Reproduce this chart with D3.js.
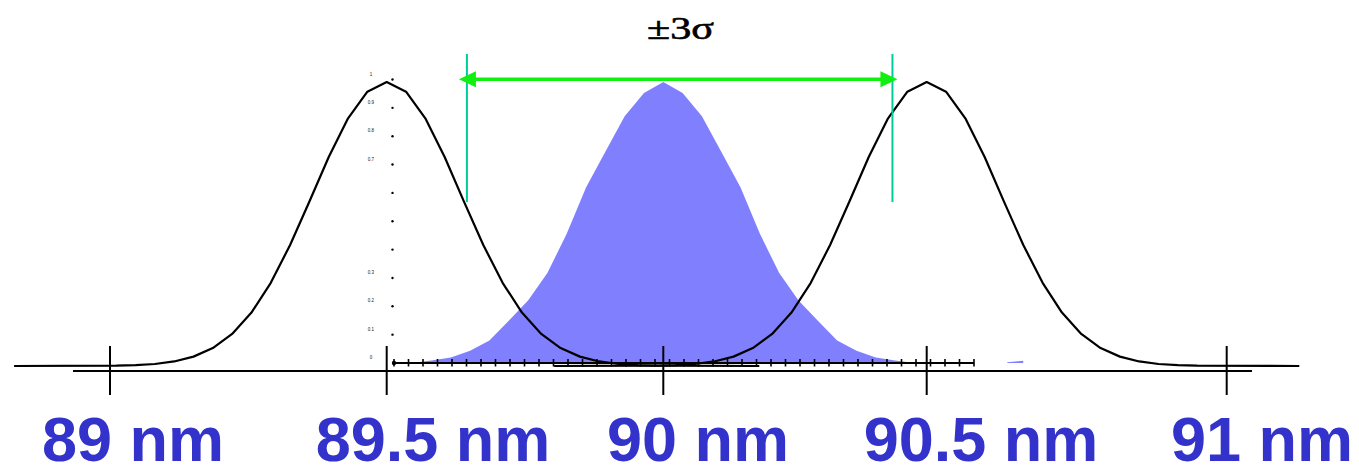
<!DOCTYPE html>
<html>
<meta charset="utf-8">
<head>
<title>3 sigma overlay</title>
	<script src="https://d3js.org/d3.v7.min.js"></script>
	<style>
		body { margin: 0; background: #fff; }
	</style>
</head>

<body>
	<div id="plot"></div>
</body>

<script>

// axis ticks and labels (nm)
var tickValues = [89, 89.5, 90, 90.5, 91];
var tickLabels = ["89 nm", "89.5 nm", "90 nm", "90.5 nm", "91 nm"];

// centres of the two outer (black) curves and the filled one
var outerCentres = [89.5, 90.5];
var filledCentre = 90;

// profile: offset from centre (nm) -> relative height
var outerOffsets = [-0.675, -0.49, -0.455, -0.42, -0.385, -0.35, -0.315, -0.28, -0.245, -0.21, -0.175, -0.14, -0.105, -0.07, -0.035,
	0, 0.035, 0.07, 0.105, 0.14, 0.175, 0.21, 0.245, 0.28, 0.315, 0.35, 0.385, 0.42, 0.455, 0.49, 0.675];
var outerValues = [0, 0.001, 0.003, 0.007, 0.016, 0.033, 0.063, 0.113, 0.188, 0.293, 0.426, 0.579, 0.736, 0.872, 0.966,
	1, 0.966, 0.872, 0.736, 0.579, 0.426, 0.293, 0.188, 0.113, 0.063, 0.033, 0.016, 0.007, 0.003, 0.001, 0];

var filledOffsets = [-0.455, -0.42, -0.385, -0.35, -0.315, -0.28, -0.245, -0.21, -0.175, -0.14, -0.105, -0.07, -0.035,
	0, 0.035, 0.07, 0.105, 0.14, 0.175, 0.21, 0.245, 0.28, 0.315, 0.35, 0.385, 0.42, 0.455];
var filledValues = [0, 0.009, 0.02, 0.044, 0.08, 0.15, 0.222, 0.32, 0.46, 0.625, 0.752, 0.878, 0.961,
	1, 0.961, 0.878, 0.752, 0.625, 0.46, 0.32, 0.222, 0.15, 0.08, 0.044, 0.02, 0.009, 0];

// stray sliver of fill right of the curve
var sliverOffsets = [0.623, 0.652, 0.652, 0.623];
var sliverValues = [0, 0, 0.008, 0.003];

// +-3 sigma markers (nm)
var sigmaMarks = [89.645, 90.435];
var sigmaLabel = "±3σ";

// the little embedded chart axis
var miniTicks = d3.range(0, 41);
var miniDots = [0.1, 0.2, 0.3, 0.4, 0.5, 0.6, 0.7, 0.8, 0.9, 1];
var miniLabelValues = [1, 0.9, 0.8, 0.7, 0.3, 0.2, 0.1, 0];
var miniLabels = ["1", "0.9", "0.8", "0.7", "0.3", "0.2", "0.1", "0"];

var width = 1359, height = 466;

var svg = d3.select("#plot").append("svg")
	.attr("width", width)
	.attr("height", height);

// the slide axis is not evenly spaced, so piecewise
var x = d3.scaleLinear()
	.domain(tickValues)
	.range([110, 386.7, 663.3, 926.7, 1226.7]);

var xLabel = d3.scaleLinear()
	.domain(tickValues)
	.range([133, 433, 698, 981, 1262]);

var off = d3.scaleLinear().domain([0, 1]).range([0, 552]);

var yOuter = d3.scaleLinear().domain([0, 1]).range([366, 82]);
var yFilled = d3.scaleLinear().domain([0, 1]).range([363, 82]);
var yMini = d3.scaleLinear().domain([0, 1]).range([363, 79.5]);

var xMini = d3.scaleLinear().domain([0, 40]).range([394, 974]);

// filled curve
var area = d3.area()
	.x(function(d){ return x(filledCentre) + off(d[0]); })
	.y0(yFilled(0))
	.y1(function(d){ return yFilled(d[1]); });

svg.append("path")
	.datum(d3.zip(filledOffsets, filledValues))
	.attr("d", area)
	.attr("fill", "#8080ff");

svg.append("path")
	.datum(d3.zip(sliverOffsets, sliverValues))
	.attr("d", d3.line()
		.x(function(d){ return x(filledCentre) + off(d[0]); })
		.y(function(d){ return yFilled(d[1]); }))
	.attr("fill", "#8080ff");

// mini chart axis
var mini = svg.append("g").attr("id", "mini");

mini.append("line")
	.attr("x1", xMini(0)).attr("x2", xMini(40))
	.attr("y1", yMini(0)).attr("y2", yMini(0))
	.attr("stroke", "#000")
	.attr("stroke-width", 2.2);

mini.selectAll(".mtick")
	.data(miniTicks)
	.enter()
	.append("line")
	.attr("class", "mtick")
	.attr("x1", function(d){ return xMini(d); })
	.attr("x2", function(d){ return xMini(d); })
	.attr("y1", yMini(0) - 4)
	.attr("y2", yMini(0) + 3.5)
	.attr("stroke", "#000")
	.attr("stroke-width", 1.6);

mini.append("circle")
	.attr("cx", xMini(0)).attr("cy", yMini(0))
	.attr("r", 2.2)
	.attr("fill", "#000");

mini.selectAll(".mdot")
	.data(miniDots)
	.enter()
	.append("circle")
	.attr("class", "mdot")
	.attr("cx", 392.5)
	.attr("cy", function(d){ return yMini(d); })
	.attr("r", 1.2)
	.attr("fill", "#000");

mini.selectAll(".mlabel")
	.data(miniLabelValues)
	.enter()
	.append("text")
	.attr("class", "mlabel")
	.attr("x", 371)
	.attr("y", function(d){ return yMini(d) - 4; })
	.attr("text-anchor", "middle")
	.attr("font-family", "Liberation Sans, Arial, sans-serif")
	.attr("font-size", 4.5)
	.attr("fill", "#222")
	.text(function(d, i){ return miniLabels[i]; });

// black outer curves
var line = d3.line()
	.x(function(d){ return d.c + off(d.o); })
	.y(function(d){ return yOuter(d.v); });

svg.selectAll(".outer")
	.data(outerCentres)
	.enter()
	.append("path")
	.attr("class", "outer")
	.attr("d", function(c){
		return line(outerOffsets.map(function(o, i){ return { c: x(c), o: o, v: outerValues[i] }; }));
	})
	.attr("fill", "none")
	.attr("stroke", "#000")
	.attr("stroke-width", 2.2)
	.attr("stroke-linejoin", "round");

// main axis
svg.append("line")
	.attr("x1", 73).attr("x2", 1252)
	.attr("y1", 371).attr("y2", 371)
	.attr("stroke", "#000")
	.attr("stroke-width", 2);

svg.selectAll(".tick")
	.data(tickValues)
	.enter()
	.append("line")
	.attr("class", "tick")
	.attr("x1", function(d){ return x(d); })
	.attr("x2", function(d){ return x(d); })
	.attr("y1", 346)
	.attr("y2", 395)
	.attr("stroke", "#000")
	.attr("stroke-width", 2);

svg.selectAll(".label")
	.data(tickValues)
	.enter()
	.append("text")
	.attr("class", "label")
	.attr("x", function(d){ return xLabel(d); })
	.attr("y", 461)
	.attr("text-anchor", "middle")
	.attr("font-family", "Liberation Sans, Arial, sans-serif")
	.attr("font-weight", "bold")
	.attr("font-size", 63)
	.attr("fill", "#3333cc")
	.text(function(d, i){ return tickLabels[i]; });

// sigma markers and arrow
svg.selectAll(".smark")
	.data(sigmaMarks)
	.enter()
	.append("line")
	.attr("class", "smark")
	.attr("x1", function(d){ return x(d); })
	.attr("x2", function(d){ return x(d); })
	.attr("y1", 54)
	.attr("y2", 202)
	.attr("stroke", "#00cc99")
	.attr("stroke-width", 2);

var ay = 79.3;
var ax0 = x(sigmaMarks[0]) - 8, ax1 = x(sigmaMarks[1]) + 5;

svg.append("line")
	.attr("x1", ax0 + 10).attr("x2", ax1 - 10)
	.attr("y1", ay).attr("y2", ay)
	.attr("stroke", "#11ee11")
	.attr("stroke-width", 3.5);

svg.append("path")
	.attr("d", "M" + ax0 + "," + ay + "L" + (ax0 + 17) + "," + (ay - 8) + "L" + (ax0 + 17) + "," + (ay + 8) + "Z")
	.attr("fill", "#11ee11");

svg.append("path")
	.attr("d", "M" + ax1 + "," + ay + "L" + (ax1 - 17) + "," + (ay - 8) + "L" + (ax1 - 17) + "," + (ay + 8) + "Z")
	.attr("fill", "#11ee11");

// slide text is stretched wide
svg.append("text")
	.attr("x", 647)
	.attr("y", 38.5)
	.attr("textLength", 67)
	.attr("lengthAdjust", "spacingAndGlyphs")
	.attr("font-family", "Liberation Serif, Times New Roman, serif")
	.attr("font-size", 31)
	.attr("stroke", "#000")
	.attr("stroke-width", 0.6)
	.attr("fill", "#000")
	.text(sigmaLabel);

</script>
</html>
